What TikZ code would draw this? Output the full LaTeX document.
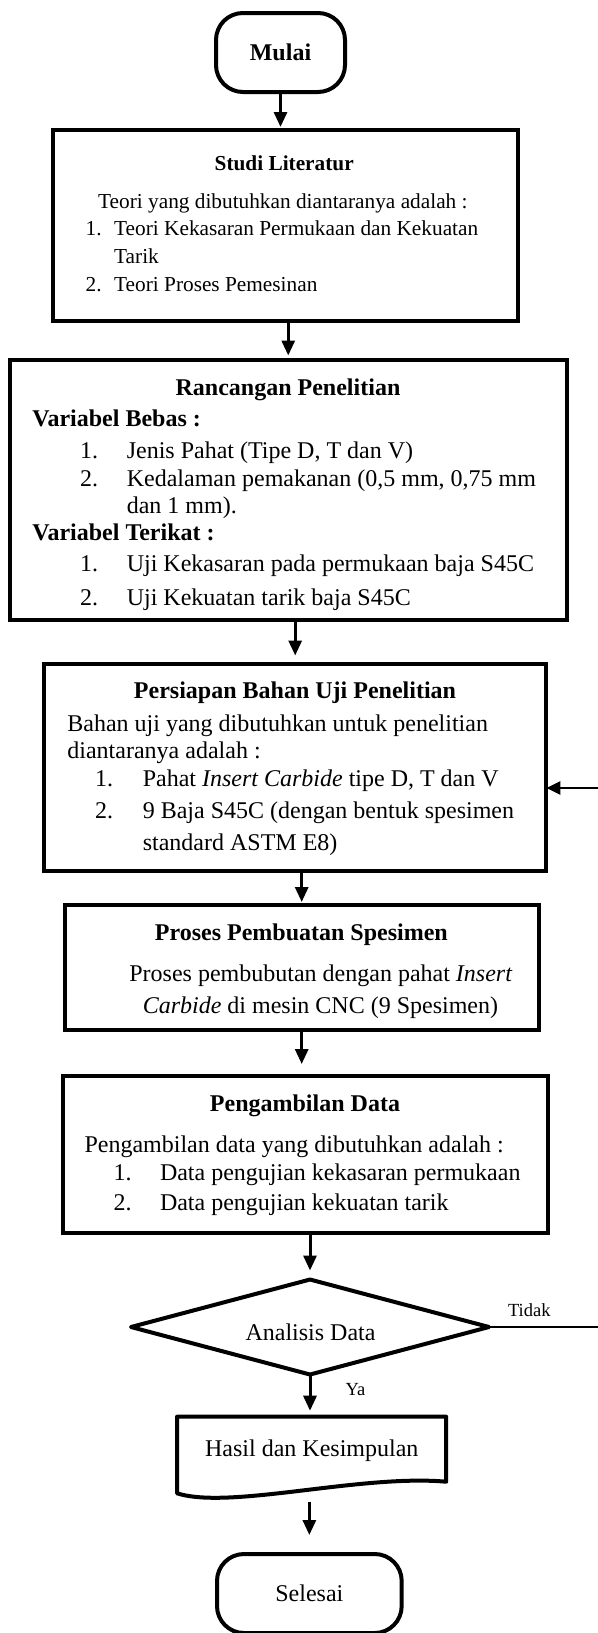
\documentclass[tikz,border=0pt]{standalone}
\usepackage{fontspec}
\setmainfont{Liberation Serif}
\usetikzlibrary{arrows.meta,shapes.geometric,calc}
\begin{document}
\begin{tikzpicture}[x=1pt,y=-1pt,
  bx/.style={draw,line width=4pt,inner sep=0pt,outer sep=0pt},
  arr/.style={line width=3pt,-{Triangle[length=15pt,width=13pt]}},
  fb/.style={line width=2.6pt,-{Triangle[length=14pt,width=13pt]}},
  lbl/.style={anchor=base west,inner sep=0pt,outer sep=0pt},
  lblc/.style={anchor=base,inner sep=0pt,outer sep=0pt},
  fsA/.style={font=\fontsize{24}{28}\selectfont},
  fsAb/.style={font=\fontsize{24}{28}\selectfont\bfseries},
  fsB/.style={font=\fontsize{21.3}{25}\selectfont},
  fsBb/.style={font=\fontsize{21.3}{25}\selectfont\bfseries},
  fsC/.style={font=\fontsize{18.5}{22}\selectfont},
]
\useasboundingbox (0,0) rectangle (597,1633);

% ---- shapes ----
\node[bx,rounded corners=27pt,minimum width=129pt,minimum height=79pt,fsAb] (mulai) at (280.5,52.5) {Mulai};
\node[bx,minimum width=465pt,minimum height=191pt] (studi) at (285.5,225.5) {};
\node[bx,minimum width=557.5pt,minimum height=260.5pt] (rancangan) at (288.25,489.75) {};
\node[bx,minimum width=502.4pt,minimum height=207.5pt] (persiapan) at (295.2,767.25) {};
\node[bx,minimum width=474pt,minimum height=125pt] (proses) at (301.7,967.5) {};
\node[bx,minimum width=485.5pt,minimum height=157pt] (pengambilan) at (305.55,1154.5) {};
\node[draw,line width=4pt,line join=round,diamond,aspect=3.77,minimum width=358pt,minimum height=95pt,inner sep=0pt,outer sep=0pt] (analisis) at (310,1327) {};
\node[minimum width=269.2pt,minimum height=65pt,inner sep=0pt,outer sep=0pt] (hasil) at (311.6,1449.2) {};
\draw[line width=4pt,line join=round] (hasil.north west) -- (hasil.north east) -- (hasil.south east)
  .. controls (360,1474) and (230,1510) .. (177,1493.3) -- cycle;
\node[bx,rounded corners=27pt,minimum width=184.7pt,minimum height=79pt,fsA] (selesai) at (309.35,1593.5) {Selesai};

% ---- texts: Studi Literatur ----
\node[lblc,fsBb] at (284.2,170.7) {Studi Literatur};
\node[lbl,fsB] at (98.2,208.3) {Teori yang dibutuhkan diantaranya adalah :};
\node[lbl,fsB] at (85.7,235.7) {1.};
\node[lbl,fsB] at (114.2,235.7) {Teori Kekasaran Permukaan dan Kekuatan};
\node[lbl,fsB] at (114.2,263.3) {Tarik};
\node[lbl,fsB] at (85.7,291.7) {2.};
\node[lbl,fsB] at (114.2,291.7) {Teori Proses Pemesinan};

% ---- Rancangan Penelitian ----
\node[lblc,fsAb] at (288,395) {Rancangan Penelitian};
\node[lbl,fsAb] at (32.4,426.7) {Variabel Bebas :};
\node[lbl,fsA] at (80,458.3) {1.};
\node[lbl,fsA] at (126.8,458.3) {Jenis Pahat (Tipe D, T dan V)};
\node[lbl,fsA] at (80,486.7) {2.};
\node[lbl,fsA] at (126.8,486.7) {Kedalaman pemakanan (0,5 mm, 0,75 mm};
\node[lbl,fsA] at (126.8,513.3) {dan 1 mm).};
\node[lbl,fsAb] at (32.4,540) {Variabel Terikat :};
\node[lbl,fsA] at (80,571.7) {1.};
\node[lbl,fsA] at (126.8,571.7) {Uji Kekasaran pada permukaan baja S45C};
\node[lbl,fsA] at (80,605) {2.};
\node[lbl,fsA] at (126.8,605) {Uji Kekuatan tarik baja S45C};

% ---- Persiapan ----
\node[lblc,fsAb] at (295,698) {Persiapan Bahan Uji Penelitian};
\node[lbl,fsA] at (67.4,731.7) {Bahan uji yang dibutuhkan untuk penelitian};
\node[lbl,fsA] at (67.4,758.3) {diantaranya adalah :};
\node[lbl,fsA] at (95.2,786.7) {1.};
\node[lbl,fsA] at (142.8,786.7) {Pahat \textit{Insert Carbide} tipe D, T dan V};
\node[lbl,fsA] at (95.2,818.3) {2.};
\node[lbl,fsA] at (142.8,818.3) {9 Baja S45C (dengan bentuk spesimen};
\node[lbl,fsA] at (142.8,850) {standard ASTM E8)};

% ---- Proses ----
\node[lblc,fsAb] at (301.4,940) {Proses Pembuatan Spesimen};
\node[lbl,fsA] at (129.4,981.7) {Proses pembubutan dengan pahat \textit{Insert}};
\node[lbl,fsA] at (142.8,1013.3) {\textit{Carbide} di mesin CNC (9 Spesimen)};

% ---- Pengambilan ----
\node[lblc,fsAb] at (305,1111.7) {Pengambilan Data};
\node[lbl,fsA] at (84.5,1152.7) {Pengambilan data yang dibutuhkan adalah :};
\node[lbl,fsA] at (113.5,1180) {1.};
\node[lbl,fsA] at (160,1180) {Data pengujian kekasaran permukaan};
\node[lbl,fsA] at (113.5,1210) {2.};
\node[lbl,fsA] at (160,1210) {Data pengujian kekuatan tarik};

% ---- decision / end ----
\node[lblc,fsA] at (310.5,1340) {Analisis Data};
\node[lblc,fsA] at (311.8,1456.7) {Hasil dan Kesimpulan};
\node[lbl,fsC] at (508,1316.7) {Tidak};
\node[lbl,fsC] at (345.7,1395) {Ya};

% ---- connectors ----
\draw[arr,shorten >=3pt] (mulai.south) -- (mulai.south |- studi.north);
\draw[arr,shorten >=4pt] (rancangan.north |- studi.south) -- (rancangan.north);
\draw[arr,shorten >=8pt] (persiapan.north |- rancangan.south) -- (persiapan.north);
\draw[arr,shorten >=3pt] (proses.north |- persiapan.south) -- (proses.north);
\draw[arr,shorten >=12pt] (proses.south) -- (proses.south |- pengambilan.north);
\draw[arr,shorten >=9pt] (analisis.north |- pengambilan.south) -- (analisis.north);
\draw[arr,shorten >=6pt] (analisis.south) -- (analisis.south |- hasil.north);
\draw[arr,shorten <=20pt,shorten >=19pt] (selesai.north |- hasil.south) -- (selesai.north);
\coordinate (fbA) at (603,1327);
\coordinate (fbB) at (603,788);
\draw[fb] (analisis.east) -- (fbA) -- (fbB) -- (persiapan.east |- fbB);
\end{tikzpicture}
\end{document}
